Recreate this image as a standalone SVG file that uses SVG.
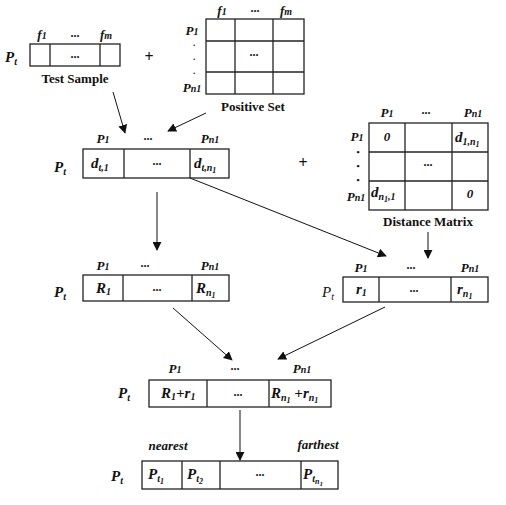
<svg xmlns="http://www.w3.org/2000/svg" width="506" height="505" viewBox="0 0 506 505" font-family="'Liberation Serif', 'Times New Roman', serif">
<style>
.b{fill:#fff;stroke:#222;stroke-width:1.3}
.l{stroke:#222;stroke-width:1.3;fill:none}
.c{stroke:#111;stroke-width:1;fill:none;marker-end:url(#ah)}
text{font-family:'Liberation Serif','Times New Roman',serif;fill:#111}
.bi{font-weight:bold;font-style:italic;font-size:15px}
.lb{font-weight:bold;font-style:italic;font-size:13px;text-anchor:middle}
.d{font-weight:bold;font-size:12px;text-anchor:middle}
.t{font-weight:bold;font-size:13px;text-anchor:middle}
.m{font-weight:bold;font-size:16px;text-anchor:middle}
.s{font-size:10px}
.ss{font-size:8px}
.dot{font-size:9px;font-weight:bold;text-anchor:middle}
</style>
<defs>
<marker id="ah" viewBox="0 0 10 10" refX="9" refY="5" markerWidth="9" markerHeight="9" markerUnits="userSpaceOnUse" orient="auto">
<path d="M0,0 L10,5 L0,10 z" fill="#111"/>
</marker>
</defs>

<g id="connectors">
<line class="c" x1="113" y1="92" x2="125" y2="133"/>
<line class="c" x1="206" y1="113" x2="168" y2="131"/>
<line class="c" x1="157" y1="192" x2="157" y2="250"/>
<line class="c" x1="190" y1="178" x2="386" y2="256"/>
<line class="c" x1="428" y1="232" x2="428" y2="258"/>
<line class="c" x1="173" y1="308" x2="232" y2="360"/>
<line class="c" x1="385" y1="307" x2="278" y2="359"/>
<line class="c" x1="240" y1="410" x2="240" y2="460"/>
</g>

<g id="test-sample">
<text class="bi" x="5" y="62">P<tspan class="s" dy="3">t</tspan></text>
<text class="lb" x="42" y="39">f<tspan class="s">1</tspan></text>
<text class="d" x="75" y="37">...</text>
<text class="lb" x="106" y="39">f<tspan class="s">m</tspan></text>
<rect class="b" x="30" y="44" width="90" height="22"/>
<line class="l" x1="50" y1="44" x2="50" y2="66"/>
<line class="l" x1="100" y1="44" x2="100" y2="66"/>
<text class="d" x="75" y="58">...</text>
<text class="t" x="75" y="83">Test Sample</text>
</g>

<text class="m" x="149" y="62">+</text>

<g id="positive-set">
<text class="lb" x="222" y="15">f<tspan class="s">1</tspan></text>
<text class="d" x="255" y="12">...</text>
<text class="lb" x="286" y="15">f<tspan class="s">m</tspan></text>
<text class="lb" x="192" y="35">P<tspan class="s">1</tspan></text>
<text class="dot" x="194" y="46">.</text>
<text class="dot" x="194" y="60">.</text>
<text class="dot" x="194" y="74">.</text>
<text class="lb" x="192" y="92">P<tspan class="s">n1</tspan></text>
<rect class="b" x="206" y="19" width="98" height="75"/>
<line class="l" x1="235" y1="19" x2="235" y2="94"/>
<line class="l" x1="273" y1="19" x2="273" y2="94"/>
<line class="l" x1="206" y1="41" x2="304" y2="41"/>
<line class="l" x1="206" y1="72" x2="304" y2="72"/>
<text class="d" x="254" y="56">...</text>
<text class="t" x="253" y="111">Positive Set</text>
</g>

<g id="distance-row">
<text class="bi" x="54" y="172">P<tspan class="s" dy="3">t</tspan></text>
<text class="lb" x="103" y="143">P<tspan class="s">1</tspan></text>
<text class="d" x="148" y="140">...</text>
<text class="lb" x="210" y="143">P<tspan class="s">n1</tspan></text>
<rect class="b" x="83" y="149" width="146" height="29"/>
<line class="l" x1="124" y1="149" x2="124" y2="178"/>
<line class="l" x1="190" y1="149" x2="190" y2="178"/>
<text class="bi" x="91" y="168">d<tspan class="s" dy="3">t,1</tspan></text>
<text class="d" x="157" y="165">...</text>
<text class="bi" x="194" y="168">d<tspan class="s" dy="3">t,n</tspan><tspan class="ss" dy="2">1</tspan></text>
</g>

<text class="m" x="303" y="168">+</text>

<g id="distance-matrix">
<text class="lb" x="387" y="117">P<tspan class="s">1</tspan></text>
<text class="d" x="426" y="114">...</text>
<text class="lb" x="473" y="117">P<tspan class="s">n1</tspan></text>
<text class="lb" x="357" y="141">P<tspan class="s">1</tspan></text>
<text class="dot" x="358" y="155">•</text>
<text class="dot" x="358" y="169">•</text>
<text class="dot" x="358" y="183">•</text>
<text class="lb" x="356" y="201">P<tspan class="s">n1</tspan></text>
<rect class="b" x="369" y="123" width="119" height="87"/>
<line class="l" x1="405" y1="123" x2="405" y2="210"/>
<line class="l" x1="452" y1="123" x2="452" y2="210"/>
<line class="l" x1="369" y1="152" x2="488" y2="152"/>
<line class="l" x1="369" y1="181" x2="488" y2="181"/>
<text class="lb" x="387" y="141">0</text>
<text class="bi" x="455" y="142">d<tspan class="s" dy="3">1,n</tspan><tspan class="ss" dy="2">1</tspan></text>
<text class="d" x="428" y="166">...</text>
<text class="bi" x="371" y="197">d<tspan class="s" dy="3">n</tspan><tspan class="ss" dy="2">1</tspan><tspan class="s" dy="-2">,1</tspan></text>
<text class="lb" x="470" y="198">0</text>
<text class="t" x="428" y="226">Distance Matrix</text>
</g>

<g id="R-row">
<text class="bi" x="54" y="297">P<tspan class="s" dy="3">t</tspan></text>
<text class="lb" x="103" y="270">P<tspan class="s">1</tspan></text>
<text class="d" x="145" y="267">...</text>
<text class="lb" x="210" y="270">P<tspan class="s">n1</tspan></text>
<rect class="b" x="83" y="275" width="146" height="26"/>
<line class="l" x1="123" y1="275" x2="123" y2="301"/>
<line class="l" x1="192" y1="275" x2="192" y2="301"/>
<text class="bi" x="96" y="293">R<tspan class="s" dy="2">1</tspan></text>
<text class="d" x="157" y="291">...</text>
<text class="bi" x="196" y="293">R<tspan class="s" dy="3">n</tspan><tspan class="ss" dy="2">1</tspan></text>
</g>

<g id="r-row">
<text x="322" y="297" font-style="italic" font-size="15">P<tspan class="s" dy="3">t</tspan></text>
<text class="lb" x="361" y="272">P<tspan class="s">1</tspan></text>
<text class="d" x="411" y="269">...</text>
<text class="lb" x="470" y="272">P<tspan class="s">n1</tspan></text>
<rect class="b" x="343" y="277" width="145" height="25"/>
<line class="l" x1="379" y1="277" x2="379" y2="302"/>
<line class="l" x1="451" y1="277" x2="451" y2="302"/>
<text class="bi" x="356" y="294">r<tspan class="s" dy="2">1</tspan></text>
<text class="d" x="414" y="292">...</text>
<text class="bi" x="457" y="294">r<tspan class="s" dy="3">n</tspan><tspan class="ss" dy="2">1</tspan></text>
</g>

<g id="sum-row">
<text class="bi" x="118" y="398">P<tspan class="s" dy="3">t</tspan></text>
<text class="lb" x="175" y="373">P<tspan class="s">1</tspan></text>
<text class="d" x="235" y="370">...</text>
<text class="lb" x="302" y="373">P<tspan class="s">n1</tspan></text>
<rect class="b" x="149" y="380" width="182" height="27"/>
<line class="l" x1="207" y1="380" x2="207" y2="407"/>
<line class="l" x1="269" y1="380" x2="269" y2="407"/>
<text class="bi" x="161" y="398">R<tspan class="s" dy="2">1</tspan><tspan dy="-2">+r</tspan><tspan class="s" dy="2">1</tspan></text>
<text class="d" x="238" y="396">...</text>
<text class="bi" x="271" y="398">R<tspan class="s" dy="3">n</tspan><tspan class="ss" dy="2">1</tspan><tspan dy="-5"> +r</tspan><tspan class="s" dy="3">n</tspan><tspan class="ss" dy="2">1</tspan></text>
</g>

<g id="ranked-row">
<text class="bi" x="111" y="481">P<tspan class="s" dy="3">t</tspan></text>
<text class="lb" x="168" y="450" font-size="12">nearest</text>
<text class="lb" x="318" y="449" font-size="12">farthest</text>
<rect class="b" x="142" y="461" width="196" height="28"/>
<line class="l" x1="182" y1="461" x2="182" y2="489"/>
<line class="l" x1="220" y1="461" x2="220" y2="489"/>
<line class="l" x1="301" y1="461" x2="301" y2="489"/>
<text class="bi" x="148" y="479">P<tspan class="s" dy="3">t</tspan><tspan class="ss" dy="2">1</tspan></text>
<text class="bi" x="187" y="479">P<tspan class="s" dy="3">t</tspan><tspan class="ss" dy="2">2</tspan></text>
<text class="d" x="260" y="476">...</text>
<text class="bi" x="303" y="479">P<tspan class="s" dy="3">t</tspan><tspan class="ss" dy="2">n</tspan><tspan font-size="7" dy="2">1</tspan></text>
</g>
</svg>
